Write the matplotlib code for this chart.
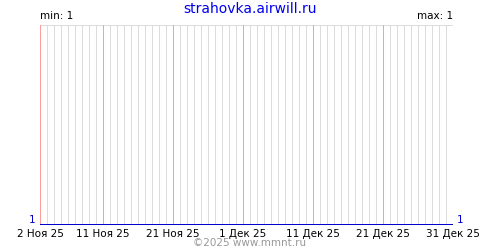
import numpy as np
import matplotlib
matplotlib.use("Agg")
import matplotlib.pyplot as plt
from datetime import date, timedelta

title = "strahovka.airwill.ru"
start = date(2025, 11, 2)
n_days = 60
days = [start + timedelta(days=i) for i in range(n_days)]
values = [1] * n_days
tick_days = [date(2025, 11, 2), date(2025, 11, 11), date(2025, 11, 21),
             date(2025, 12, 1), date(2025, 12, 11), date(2025, 12, 21),
             date(2025, 12, 31)]
tick_labels = ["2 Ноя 25", "11 Ноя 25", "21 Ноя 25", "1 Дек 25",
               "11 Дек 25", "21 Дек 25", "31 Дек 25"]

fig = plt.figure(figsize=(5, 2.5), dpi=100)
ax = fig.add_axes([0.08, 0.1, 0.826, 0.8])

# daily grid, pink on the labelled days (1 px lines)
for d in days:
    if d in tick_days:
        ax.axvline(d, color="#ff9c9c", lw=0.72, zorder=2, antialiased=False, snap=True)
    else:
        ax.axvline(d, color="#dcdcdc", lw=0.72, zorder=1, antialiased=False, snap=True)
ax.axhline(2, color="#dcdcdc", lw=1.44, zorder=1, antialiased=False)

ax.plot(days, values, color="#0000cc", lw=1.44, zorder=3, solid_capstyle="butt",
        antialiased=False)

ax.set_xlim(days[0], days[-1])
ax.set_ylim(1, 2)
for s in ax.spines.values():
    s.set_visible(False)
ax.set_yticks([])
ax.set_xticks(tick_days)
ax.set_xticklabels(tick_labels, fontsize=7.5)
ax.tick_params(axis="x", length=0, pad=3)

ax.text(0.0, 1.02, "min: %d" % min(values), transform=ax.transAxes, fontsize=7.5,
        ha="left", va="bottom")
ax.text(1.0, 1.02, "max: %d" % max(values), transform=ax.transAxes, fontsize=7.5,
        ha="right", va="bottom")
ax.text(-0.01, 0.0, str(values[0]), transform=ax.transAxes, fontsize=7.5,
        color="#0000cc", ha="right", va="bottom")
ax.text(1.01, 0.0, str(values[-1]), transform=ax.transAxes, fontsize=7.5,
        color="#0000cc", ha="left", va="bottom")

fig.text(0.5, 0.965, title, fontsize=10, color="#0000ee", ha="center", va="center")
fig.text(0.5, 0.028, "©2025 www.mmnt.ru", fontsize=7.5, color="#999999",
         ha="center", va="center")

fig.savefig("out.png", dpi=100)
